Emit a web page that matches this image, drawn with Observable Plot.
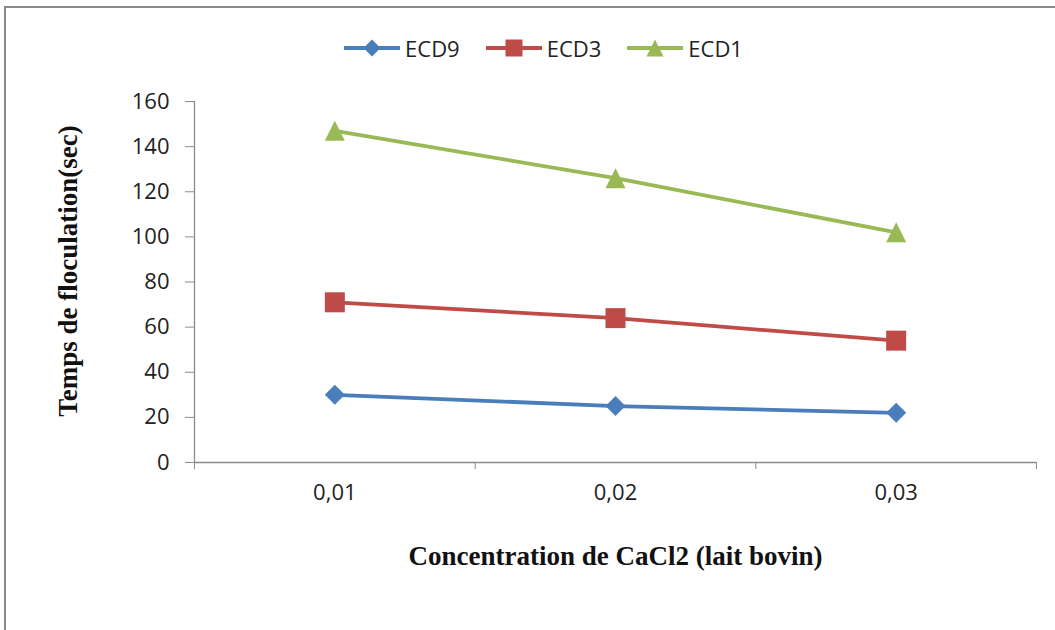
<!DOCTYPE html>
<html>
<head>
<meta charset="utf-8">
<script src="https://cdn.jsdelivr.net/npm/d3@7"></script>
<script src="https://cdn.jsdelivr.net/npm/@observablehq/plot@0.6"></script>
<style>
  html, body { margin: 0; padding: 0; background: #fff; overflow: hidden; }
  #wrap { position: relative; width: 1055px; height: 630px; overflow: hidden; }
  #frame { position: absolute; left: 4px; top: 6px; width: 1200px; height: 800px;
           border-top: 2px solid #8a8a8a; border-left: 2px solid #8a8a8a; }
  #chart { position: absolute; left: 0; top: 0; }
  #legend { position: absolute; top: 33px; left: 0; width: 1087px; display: flex;
            justify-content: center; align-items: center;
            font-family: "Open Sans", sans-serif; font-size: 22px; color: #222; }
  .item { display: flex; align-items: center; margin: 0 13px; }
  .item svg { margin-right: 5px; }
</style>
</head>
<body>
<div id="wrap">
  <div id="frame"></div>
  <div id="chart"></div>
  <div id="legend"></div>
</div>
<script>
// Concentration of CaCl2 (categories) and their axis labels
const concentrations = [0.01, 0.02, 0.03];
const concLabels = ["0,01", "0,02", "0,03"];

// Flocculation time (sec) for each enzyme extract
const ecd9 = [30, 25, 22];
const ecd3 = [71, 64, 54];
const ecd1 = [147, 126, 102];

const seriesNames = ["ECD9", "ECD3", "ECD1"];
const seriesColors = ["#4A7EBB", "#BE4B48", "#98B954"];

const yTicks = [0, 20, 40, 60, 80, 100, 120, 140, 160];
const xEdges = [0.005, 0.015, 0.025, 0.035];

const yTitle = "Temps de floculation(sec)";
const xTitle = "Concentration de CaCl2 (lait bovin)";

// Marker shapes whose bounding box is 2r × 2r (r derived from Plot's size = πr²)
const half = size => Math.sqrt(size / Math.PI);
const diamond = {draw(c, s) { const r = half(s); c.moveTo(0, -r); c.lineTo(r, 0); c.lineTo(0, r); c.lineTo(-r, 0); c.closePath(); }};
const square = {draw(c, s) { const r = half(s); c.moveTo(-r, -r); c.lineTo(r, -r); c.lineTo(r, r); c.lineTo(-r, r); c.closePath(); }};
const triangle = {draw(c, s) { const r = half(s); c.moveTo(0, -r); c.lineTo(r, r); c.lineTo(-r, r); c.closePath(); }};
const symbols = [diamond, square, triangle];

const values = [ecd9, ecd3, ecd1];
const rows = [];
seriesNames.forEach((name, i) => {
  concentrations.forEach((c, j) => rows.push({series: name, conc: c, time: values[i][j]}));
});

const colorOf = Object.fromEntries(seriesNames.map((n, i) => [n, seriesColors[i]]));
const symbolOf = Object.fromEntries(seriesNames.map((n, i) => [n, symbols[i]]));

const axisStyle = {fontFamily: "Open Sans, sans-serif", fontSize: 22, color: "#222"};
const titleStyle = {fontFamily: "Liberation Serif, Times New Roman, serif", fontWeight: "bold",
                    fontSize: 27, fill: "#111", textAnchor: "middle", lineAnchor: "middle"};

const chart = Plot.plot({
  width: 1055,
  height: 630,
  marginLeft: 194,
  marginRight: 19,
  marginTop: 101,
  marginBottom: 168,
  style: {background: "transparent", color: "#222", fontFamily: "Open Sans, sans-serif"},
  x: {domain: [xEdges[0], xEdges[xEdges.length - 1]]},
  y: {domain: [yTicks[0], yTicks[yTicks.length - 1]]},
  marks: [
    // axis lines
    Plot.ruleY([yTicks[0]], {stroke: "#8c8c8c", strokeWidth: 1.3}),
    Plot.ruleX([xEdges[0]], {stroke: "#8c8c8c", strokeWidth: 1.3}),
    // y axis ticks and labels
    Plot.axisY({ticks: yTicks, tickSize: 9, tickPadding: 16, label: null,
                stroke: "#8c8c8c", ...axisStyle}),
    // x axis: tick marks between categories
    Plot.axisX({ticks: xEdges, tickSize: 7, tickFormat: () => "", label: null, stroke: "#8c8c8c"}),
    // x axis: category labels
    Plot.axisX({ticks: concentrations, tickSize: 0, tickPadding: 22, label: null,
                tickFormat: d => concLabels[concentrations.indexOf(d)], ...axisStyle}),
    // series lines
    Plot.line(rows, {x: "conc", y: "time", z: "series",
                     stroke: d => colorOf[d.series], strokeWidth: 3.8}),
    // series markers
    ...seriesNames.map(name => Plot.dot(rows.filter(d => d.series === name), {
      x: "conc", y: "time", symbol: symbolOf[name], r: 10, fill: colorOf[name], stroke: "none"
    })),
    // axis titles
    Plot.text([yTitle], {frameAnchor: "left", text: d => d, rotate: -90, dx: -126, dy: -11, ...titleStyle}),
    Plot.text([xTitle], {frameAnchor: "bottom", text: d => d, dy: 94, ...titleStyle})
  ]
});
document.getElementById("chart").appendChild(chart);

// Legend: line sample with marker, followed by the series name
const legend = d3.select("#legend");
seriesNames.forEach((name, i) => {
  const item = legend.append("div").attr("class", "item");
  const svg = item.append("svg").attr("width", 56).attr("height", 24);
  svg.append("line").attr("x1", 0).attr("x2", 56).attr("y1", 12).attr("y2", 12)
    .attr("stroke", seriesColors[i]).attr("stroke-width", 3.8);
  svg.append("path").attr("transform", "translate(28,12)")
    .attr("d", d3.symbol(symbols[i], Math.PI * 8.5 * 8.5)())
    .attr("fill", seriesColors[i]);
  item.append("span").text(name);
});
</script>
</body>
</html>
